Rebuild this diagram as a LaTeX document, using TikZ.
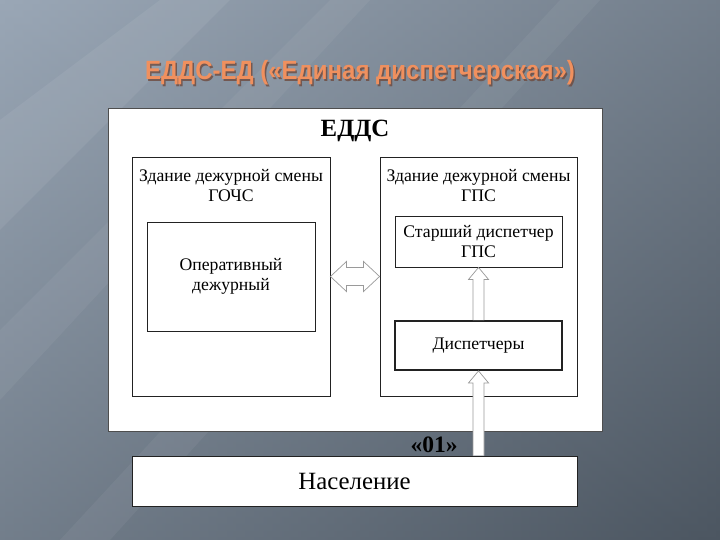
\documentclass[tikz,border=0pt]{standalone}
\usepackage{fontspec}
\setmainfont{Liberation Serif}
\newfontfamily\titlefont{Liberation Sans}
\usetikzlibrary{calc}
\definecolor{bgdark}{HTML}{4C5661}
\definecolor{bglight}{HTML}{9AA7B6}
\definecolor{titleor}{HTML}{F0905E}
\definecolor{titlesh}{HTML}{6E4A3E}
\definecolor{boxline}{HTML}{222222}
\definecolor{arrline}{HTML}{9A9A9A}
\tikzset{
  box/.style={draw=boxline, line width=0.9pt, fill=white, inner sep=0pt},
  lbl/.style={inner sep=0pt, align=center, font=\fontsize{17.7}{20}\selectfont},
  hollow/.style={draw=arrline, line width=0.7pt, fill=white, line join=miter},
}
\begin{document}
\begin{tikzpicture}[x=1pt,y=-1pt]
\useasboundingbox (0,0) rectangle (720,540);
% background
\shade[left color=bglight, right color=bgdark] (0,0) rectangle (720,540);
\shade[top color=bglight, bottom color=bgdark, opacity=0.5] (0,0) rectangle (720,540);
\fill[white, opacity=0.07] (0,120) -- (160,0) -- (230,0) -- (0,230) -- cycle;
\fill[white, opacity=0.05] (0,330) -- (330,0) -- (370,0) -- (0,400) -- cycle;
\fill[white, opacity=0.05] (60,540) -- (560,0) -- (600,0) -- (110,540) -- cycle;
% title
\node[inner sep=0pt, text=titlesh, opacity=0.8] at (361.5,74.5) {\titlefont\bfseries\fontsize{24}{26}\selectfont\scalebox{1}[1.1]{ЕДДС-ЕД («Единая диспетчерская»)}};
\node (title) [inner sep=0pt, text=titleor] at (360,73) {\titlefont\bfseries\fontsize{24}{26}\selectfont\scalebox{1}[1.1]{ЕДДС-ЕД («Единая диспетчерская»)}};
% outer box
\node (edds) [box, draw=boxline!80, line width=0.7pt, minimum width=494pt, minimum height=323pt] at (355,269.5) {};
\node (eddslbl) [inner sep=0pt, font=\bfseries\fontsize{24.8}{26}\selectfont] at (355,131) {ЕДДС};
% left building
\node (gochs) [box, minimum width=198pt, minimum height=239pt] at (231,276.5) {};
\node (gochslbl) [lbl] at (231,186) {Здание дежурной смены\\ГОЧС};
\node (oper) [box, minimum width=168pt, minimum height=109pt, lbl] at (231,276.5) {Оперативный\\дежурный};
% right building
\node (gps) [box, minimum width=197pt, minimum height=239pt] at (478.5,276.5) {};
\node (gpslbl) [lbl] at (478.5,186) {Здание дежурной смены\\ГПС};
\node (senior) [box, minimum width=167pt, minimum height=51pt, lbl] at (478.5,241.5) {Старший диспетчер\\ГПС};
\node (disp) [box, line width=1.8pt, minimum width=167pt, minimum height=49pt, lbl] at (478.5,345.5) {Диспетчеры};
% population
\node (nas) [box, line width=1pt, minimum width=445pt, minimum height=50pt, font=\fontsize{24.8}{26}\selectfont] at (354.5,481) {Население};
\node (n01) [inner sep=0pt, font=\bfseries\fontsize{23.5}{26}\selectfont] at (434,445) {«01»};
% double arrow
\coordinate (dl) at (gochs.east);
\coordinate (dr) at (gps.west);
\draw[hollow] (dl) -- ($(dl)+(16,-15)$) -- ($(dl)+(16,-9)$) -- ($(dr)+(-16,-9)$) -- ($(dr)+(-16,-15)$)
  -- (dr) -- ($(dr)+(-16,15)$) -- ($(dr)+(-16,9)$) -- ($(dl)+(16,9)$) -- ($(dl)+(16,15)$) -- cycle;
% up arrow disp -> senior
\coordinate (a1) at (disp.north);
\coordinate (b1) at (senior.south);
\draw[hollow] ($(a1)+(-5.5,0)$) -- ($(b1)+(-5.5,12)$) -- ($(b1)+(-10,12)$) -- (b1)
  -- ($(b1)+(10,12)$) -- ($(b1)+(5.5,12)$) -- ($(a1)+(5.5,0)$);
% up arrow nas -> disp
\coordinate (a2) at (disp.south |- nas.north);
\coordinate (b2) at (disp.south);
\draw[hollow] ($(a2)+(-5.5,0)$) -- ($(b2)+(-5.5,12)$) -- ($(b2)+(-10,12)$) -- (b2)
  -- ($(b2)+(10,12)$) -- ($(b2)+(5.5,12)$) -- ($(a2)+(5.5,0)$);
\end{tikzpicture}
\end{document}
